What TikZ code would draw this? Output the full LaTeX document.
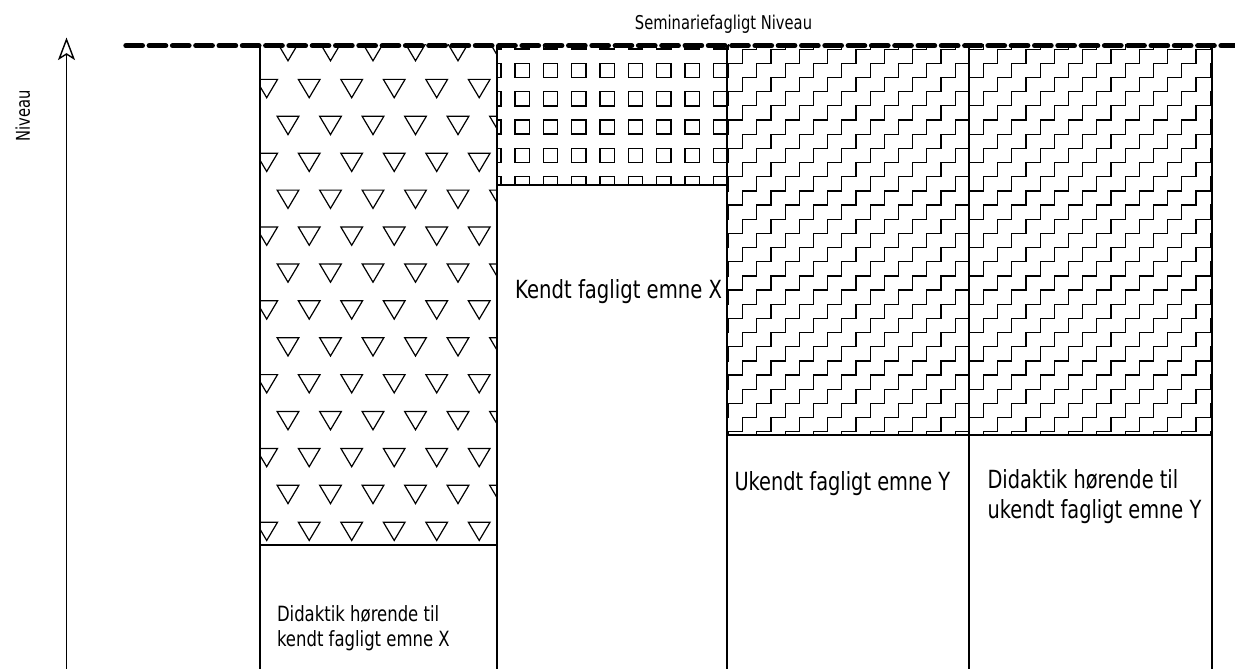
\documentclass[tikz,border=0pt]{standalone}
\usepackage{fontspec}
\newfontfamily\tf{DejaVu Sans}[FakeStretch=0.775]
\newfontfamily\tfw{DejaVu Sans}[FakeStretch=0.785]
\usetikzlibrary{arrows.meta}
\begin{document}
\begin{tikzpicture}[x=1pt,y=-1pt,
  border/.style={line width=1.8pt},
  pat/.style={line width=1.2pt, line join=miter},
  sqpat/.style={line width=1.6pt},
  lbl/.style={anchor=base west, inner sep=0pt, font=\tf\fontsize{25}{30}\selectfont},
  lblw/.style={anchor=base west, inner sep=0pt, font=\tfw\fontsize{25}{30}\selectfont},
  lblsm/.style={anchor=base west, inner sep=0pt, font=\tfw\fontsize{21}{25}\selectfont},
  lblti/.style={anchor=base west, inner sep=0pt, font=\tf\fontsize{19}{23}\selectfont},
  levelline/.style={line width=5pt, dash pattern=on 16.7pt off 6.6pt, line cap=round},
  axis/.style={line width=1.4pt},
  axhead/.style={line width=1.4pt, line join=miter, fill=white}]
\useasboundingbox (0,0) rectangle (1235,669);

% triangles pattern (column 1)
\begin{scope}
\clip (260,45) rectangle (497,545);
\foreach \r in {0,...,13}{
  \pgfmathsetmacro\ty{42.5+36.9*\r}
  \pgfmathsetmacro\ox{mod(\r,2)==0 ? 288 : 266.7}
  \foreach \k in {0,...,6}{
    \pgfmathsetmacro\cx{\ox+42.5*\k}
    \draw[pat] (\cx-10.85,\ty) -- (\cx+10.85,\ty) -- (\cx,\ty+18.3) -- cycle;
  }
}
\end{scope}

% squares pattern (column 2)
\begin{scope}
\clip (497,45) rectangle (727,185);
\foreach \r in {0,...,5}{
  \foreach \k in {0,...,8}{
    \draw[sqpat] ({486.7+28.33*\k},{35+28.33*\r}) rectangle ++(14.3,14.3);
  }
}
\end{scope}

% staircase pattern (columns 3 and 4)
\begin{scope}
\clip (727,45) rectangle (1212,435);
\foreach \k in {-16,...,18}{
  \draw[pat] ({728.5+28.333*\k},445.9) \foreach \i in {1,...,30}{ -- ++(0,-14.1667) -- ++(14.1667,0) };
}
\end{scope}

% column borders
\foreach \x in {260,497,727,969,1212}{
  \draw[border] (\x,45) -- (\x,670);
}
\draw[border] (260,545) -- (497,545);
\draw[border] (497,185) -- (727,185);
\draw[border] (727,435) -- (1212,435);

% level line
\draw[levelline] (125.8,45.7) -- (1245,45.7);

% axis with open arrowhead
\coordinate (axb) at (66.5,670);
\coordinate (axn) at (66.5,54);
\coordinate (axt) at (66.5,39.5);
\draw[axis] (axb) -- (axn);
\draw[axhead] (axt) -- (59.3,58.5) -- (axn) -- (73.7,58.5) -- cycle;

% labels
\node[lblti] (ttl) at (634.7,30) {Seminariefagligt Niveau};
\node[rotate=90, anchor=base, inner sep=0pt, font=\tf\fontsize{19}{23}\selectfont] (niv) at (30,116) {Niveau};
\node[lblw] (kx) at (515,298.3) {Kendt fagligt emne X};
\node[lbl] (uy) at (734.3,490) {Ukendt fagligt emne Y};
\node[lbl] (d4a) at (987.3,488.3) {Didaktik hørende til};
\node[lbl] (d4b) at (987.3,518.3) {ukendt fagligt emne Y};
\node[lblsm] (d1a) at (276.8,621.7) {Didaktik hørende til};
\node[lblsm] (d1b) at (276.8,646.7) {kendt fagligt emne X};
\end{tikzpicture}
\end{document}
